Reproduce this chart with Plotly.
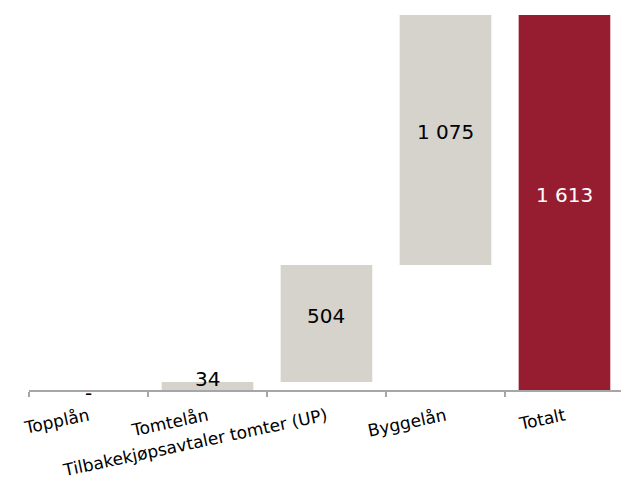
import plotly.graph_objects as go

# Loan categories and their contributions (MNOK); last entry is the total
categories = ["Topplån", "Tomtelån", "Tilbakekjøpsavtaler tomter (UP)", "Byggelån", "Totalt"]
values = [0, 34, 504, 1075, 1613]
measures = ["relative", "relative", "relative", "relative", "total"]

STEP_COLOR = "#d6d2cc"
TOTAL_COLOR = "#961c30"
FONT = "DejaVu Sans"


def fmt(v):
    # Norwegian style: space as thousands separator, dash for zero
    if v == 0:
        return "-"
    return f"{v:,}".replace(",", " ")


fig = go.Figure(
    go.Waterfall(
        x=categories,
        y=values,
        measure=measures,
        width=0.77,
        increasing=dict(marker=dict(color=STEP_COLOR, line=dict(width=0))),
        decreasing=dict(marker=dict(color=STEP_COLOR, line=dict(width=0))),
        totals=dict(marker=dict(color=TOTAL_COLOR, line=dict(width=0))),
        connector=dict(visible=False),
        hoverinfo="skip",
    )
)

# Value labels: centred in each bar, thin bars get the label at their top,
# an empty step gets a dash just under the axis line
running = 0
for cat, v, m in zip(categories, values, measures):
    if m == "total":
        base, top = 0, v
    else:
        base, top = running, running + v
        running = top
    if v == 0:
        ypos, shift = top, -3
    elif v < 100:
        ypos, shift = top, 3
    else:
        ypos, shift = (base + top) / 2, 8
    fig.add_annotation(
        x=cat,
        y=ypos,
        yshift=shift,
        text=fmt(v),
        showarrow=False,
        yanchor="middle",
        font=dict(family=FONT, size=20, color="white" if m == "total" else "black"),
    )

fig.update_layout(
    width=621,
    height=479,
    margin=dict(l=29, r=0, t=15, b=89),
    paper_bgcolor="white",
    plot_bgcolor="white",
    showlegend=False,
    font=dict(family=FONT, size=17, color="black"),
    xaxis=dict(
        range=[-0.5, 4.475],
        showline=True,
        linecolor="#a6a6a6",
        linewidth=2,
        ticks="outside",
        tickson="boundaries",
        ticklen=5,
        tickwidth=2,
        tickcolor="#a6a6a6",
        tickangle=-12,
        ticklabelstandoff=8,
        showgrid=False,
        zeroline=False,
        tickfont=dict(family=FONT, size=17, color="black"),
    ),
    yaxis=dict(
        range=[0, 1613],
        visible=False,
        showgrid=False,
        zeroline=False,
    ),
)

fig.write_html("out.html")
